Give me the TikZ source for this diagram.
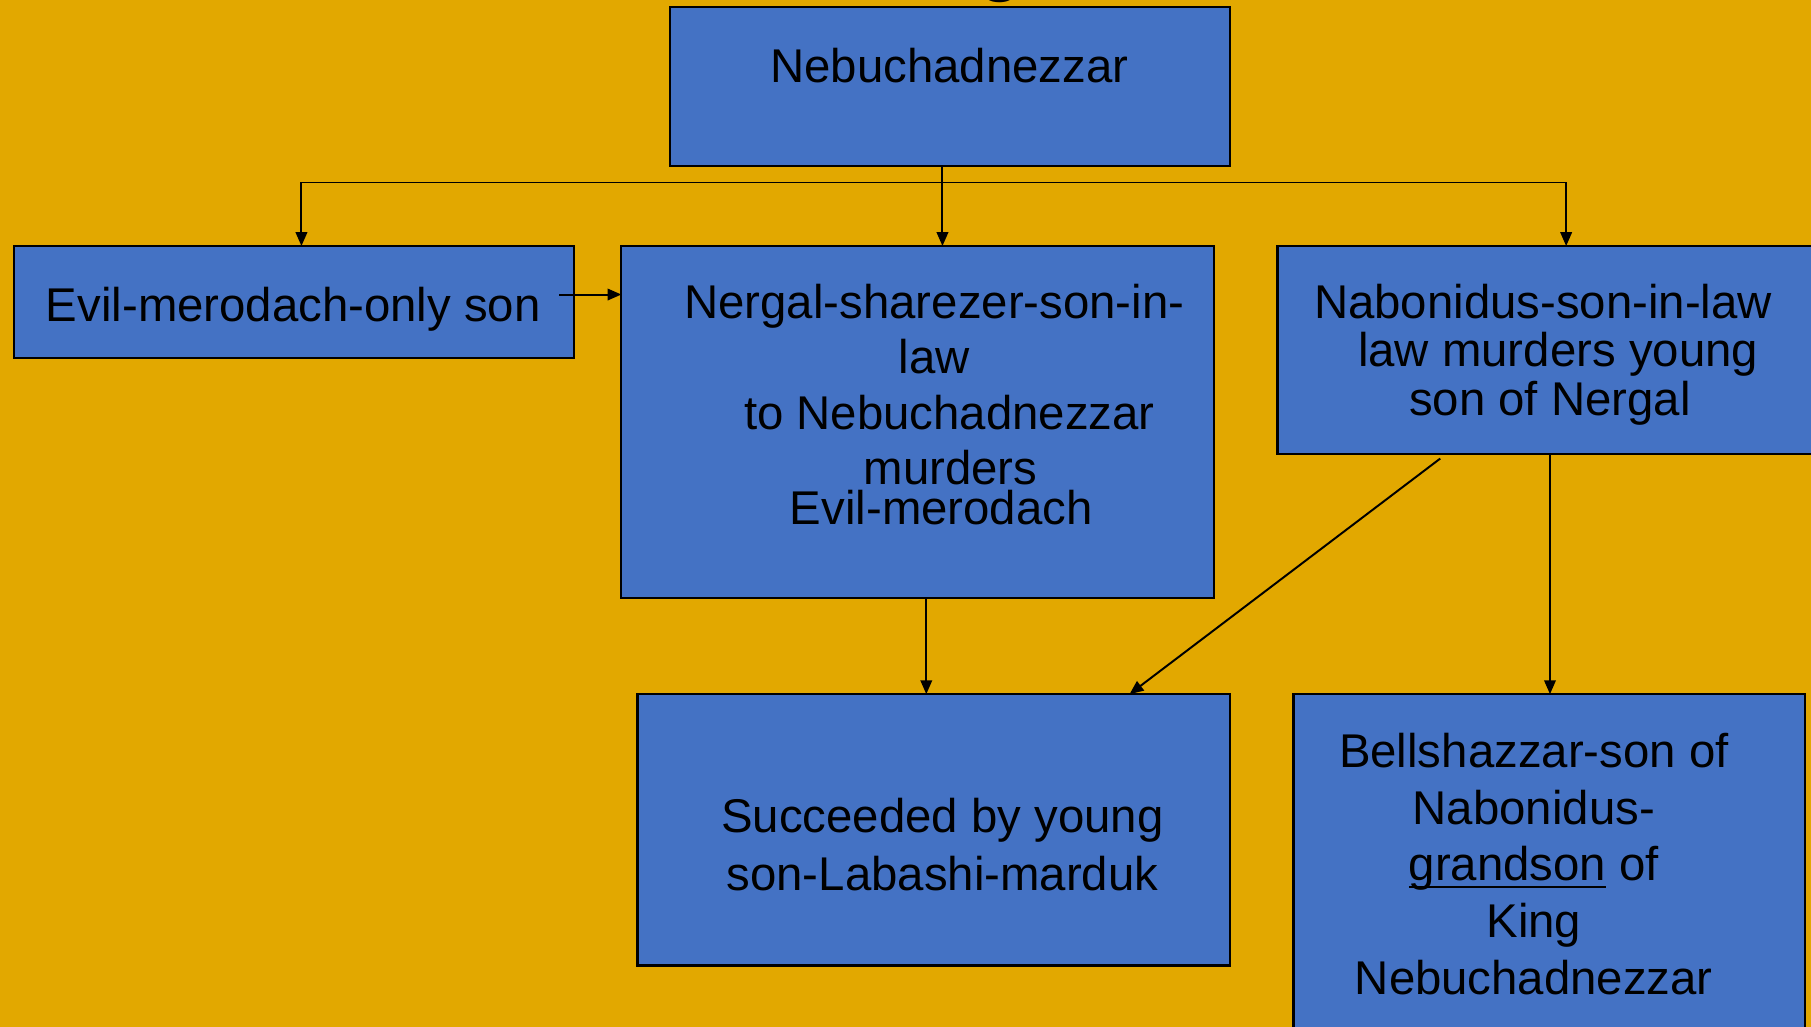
\documentclass[tikz,border=0pt]{standalone}
\usepackage{fontspec}
\setmainfont{Liberation Sans}
\usetikzlibrary{arrows.meta}
\definecolor{bgorange}{RGB}{226,168,0}
\definecolor{boxblue}{RGB}{68,114,196}
\newcommand\myul[1]{\setbox0\hbox{#1}\rlap{\rule[-6pt]{\wd0}{2pt}}\box0\relax}
\begin{document}
\begin{tikzpicture}[x=1pt,y=-1pt,
  box/.style={draw=black, line width=1.9pt, fill=boxblue, inner sep=0pt, outer sep=0pt, anchor=north west},
  txt/.style={inner sep=0pt, outer sep=0pt, align=center, font=\fontsize{41}{48}\selectfont},
  conn/.style={line width=1.7pt, -{Triangle[length=12pt,width=10pt]}},
  plainline/.style={line width=1.7pt}]
\useasboundingbox (0,0) rectangle (1568,889);
\clip (0,0) rectangle (1568,889);
\fill[bgorange] (0,0) rectangle (1568,889);
% partial title letter at the top edge
\node[inner sep=0pt, anchor=base, font=\fontsize{72}{72}\selectfont] (titleg) at (866,-12.5) {g};
% boxes
\node[box, minimum width=485pt, minimum height=138pt] (top) at (580,6) {};
\node[box, minimum width=485pt, minimum height=97pt] (evil) at (12,213) {};
\node[box, minimum width=513pt, minimum height=305pt] (nergal) at (538,213) {};
\node[box, minimum width=520pt, minimum height=180pt] (nabon) at (1106,213) {};
\node[box, minimum width=513pt, minimum height=235pt] (succ) at (552,601) {};
\node[box, minimum width=443pt, minimum height=320pt] (bell) at (1120,601) {};
% texts
\node[txt, anchor=base] (toptxt) at (822,71) {Nebuchadnezzar};
\node[txt, anchor=base] (eviltxt) at (254,278) {Evil-merodach-only son};
\node[txt, anchor=north] (nergaltxt) at (809,246) {Nergal-sharezer-son-in-\\law\\\hspace*{26pt}to Nebuchadnezzar\\\hspace*{28pt}murders\\[-14pt]\hspace*{12pt}Evil-merodach};
\node[txt, anchor=north, font=\fontsize{41}{42}\selectfont] (nabontxt) at (1336,246) {Nabonidus-son-in-law\\\hspace*{26pt}law murders young\\\hspace*{12pt}son of Nergal};
\node[txt, anchor=north, font=\fontsize{41}{50}\selectfont] (succtxt) at (816,691) {Succeeded by young\\son-Labashi-marduk};
\node[txt, anchor=north, font=\fontsize{41}{49}\selectfont] (belltxt) at (1328,635) {Bellshazzar-son of\\Nabonidus-\\\myul{grandson} of\\King\\Nebuchadnezzar};
% connector coordinates
\coordinate (bl) at (261,158);
\coordinate (bm) at (816,158);
\coordinate (br) at (1356,158);
\coordinate (es) at (484,255);
\coordinate (c1) at (802,0);
\coordinate (d1) at (1247,397);
\coordinate (d2) at (978,0);
\coordinate (c3) at (1342,0);
% connectors
\draw[plainline] (bl) -- (br);
\draw[conn] (bl) -- (evil.north -| bl);
\draw[conn] (br) -- (nabon.north -| br);
\draw[conn] (top.south -| bm) -- (nergal.north -| bm);
\draw[conn] (es) -- (es -| nergal.west);
\draw[conn] (c1 |- nergal.south) -- (c1 |- succ.north);
\draw[conn] (d1) -- (d2 |- succ.north);
\draw[conn] (c3 |- nabon.south) -- (c3 |- bell.north);
\end{tikzpicture}
\end{document}
